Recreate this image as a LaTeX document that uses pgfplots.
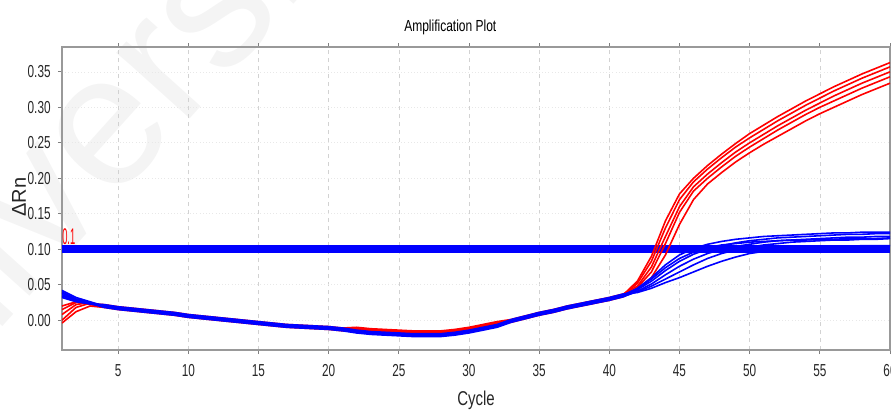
\documentclass[border=0pt]{standalone}
\usepackage{pgfplots}
\pgfplotsset{compat=1.18}
\usepackage{pgfplotstable}
\usepackage{graphicx}
\usepackage{fontspec}
\setmainfont{Liberation Sans}[FakeStretch=0.75]
\newfontfamily\wmfont{Liberation Sans}
\newfontfamily\tickfont{Liberation Sans}[FakeStretch=0.68]

\pgfplotstableread{
c r1 r2 r3 r4 r5 b1 b2 b3 b4 b5 b6
1 0.000 0.008 0.015 0.020 -0.004 0.042 0.040 0.038 0.036 0.034 0.032
2 0.018 0.022 0.025 0.026 0.012 0.032 0.030 0.029 0.028 0.027 0.026
3 0.024 0.025 0.023 0.022 0.020 0.026 0.025 0.024 0.024 0.023 0.023
4 0.021 0.020 0.022 0.019 0.018 0.020 0.019 0.018 0.021 0.019 0.022
5 0.018 0.017 0.019 0.016 0.015 0.017 0.016 0.015 0.018 0.016 0.019
6 0.016 0.015 0.017 0.014 0.013 0.015 0.014 0.013 0.016 0.014 0.017
7 0.014 0.013 0.015 0.012 0.011 0.013 0.012 0.011 0.014 0.012 0.015
8 0.012 0.011 0.013 0.010 0.009 0.011 0.010 0.009 0.012 0.010 0.013
9 0.010 0.009 0.011 0.008 0.007 0.009 0.008 0.007 0.010 0.008 0.011
10 0.007 0.006 0.008 0.005 0.004 0.006 0.005 0.004 0.007 0.005 0.008
11 0.005 0.004 0.006 0.003 0.002 0.004 0.003 0.002 0.005 0.003 0.006
12 0.003 0.002 0.004 0.001 0.000 0.002 0.001 0.000 0.003 0.001 0.004
13 0.001 0.000 0.002 -0.001 -0.002 0.000 -0.001 -0.002 0.001 -0.001 0.002
14 -0.001 -0.002 0.000 -0.003 -0.004 -0.002 -0.003 -0.004 -0.001 -0.003 0.000
15 -0.003 -0.004 -0.002 -0.005 -0.006 -0.004 -0.005 -0.006 -0.003 -0.005 -0.002
16 -0.005 -0.006 -0.004 -0.007 -0.008 -0.006 -0.007 -0.008 -0.005 -0.007 -0.004
17 -0.007 -0.008 -0.006 -0.009 -0.010 -0.008 -0.009 -0.010 -0.007 -0.009 -0.006
18 -0.008 -0.009 -0.007 -0.010 -0.011 -0.009 -0.010 -0.011 -0.008 -0.010 -0.007
19 -0.009 -0.010 -0.008 -0.011 -0.012 -0.010 -0.011 -0.012 -0.009 -0.011 -0.008
20 -0.010 -0.011 -0.009 -0.012 -0.013 -0.011 -0.012 -0.013 -0.010 -0.012 -0.009
21 -0.012 -0.013 -0.011 -0.014 -0.015 -0.013 -0.014 -0.015 -0.012 -0.014 -0.011
22 -0.011 -0.012 -0.010 -0.013 -0.014 -0.016 -0.017 -0.018 -0.015 -0.017 -0.014
23 -0.013 -0.014 -0.012 -0.015 -0.016 -0.018 -0.019 -0.020 -0.017 -0.019 -0.016
24 -0.014 -0.015 -0.013 -0.016 -0.017 -0.019 -0.020 -0.021 -0.018 -0.020 -0.017
25 -0.015 -0.016 -0.014 -0.017 -0.018 -0.020 -0.021 -0.022 -0.019 -0.021 -0.018
26 -0.016 -0.017 -0.015 -0.018 -0.019 -0.021 -0.022 -0.023 -0.020 -0.022 -0.019
27 -0.016 -0.017 -0.015 -0.018 -0.019 -0.021 -0.022 -0.023 -0.020 -0.022 -0.019
28 -0.016 -0.017 -0.015 -0.018 -0.019 -0.021 -0.022 -0.023 -0.020 -0.022 -0.019
29 -0.014 -0.015 -0.013 -0.016 -0.017 -0.019 -0.020 -0.021 -0.018 -0.020 -0.017
30 -0.011 -0.012 -0.010 -0.013 -0.014 -0.016 -0.017 -0.018 -0.015 -0.017 -0.014
31 -0.007 -0.008 -0.006 -0.009 -0.010 -0.012 -0.013 -0.014 -0.011 -0.013 -0.010
32 -0.003 -0.004 -0.002 -0.005 -0.006 -0.008 -0.009 -0.010 -0.007 -0.009 -0.006
33 0.000 -0.001 0.001 -0.002 -0.003 -0.001 -0.002 -0.003 0.000 -0.002 0.001
34 0.005 0.004 0.006 0.003 0.002 0.004 0.003 0.002 0.005 0.003 0.006
35 0.010 0.009 0.011 0.008 0.007 0.009 0.008 0.007 0.010 0.008 0.011
36 0.014 0.013 0.015 0.012 0.011 0.013 0.012 0.011 0.014 0.012 0.015
37 0.019 0.018 0.020 0.017 0.016 0.018 0.017 0.016 0.019 0.017 0.020
38 0.023 0.022 0.024 0.021 0.020 0.022 0.021 0.020 0.023 0.021 0.024
39 0.027 0.026 0.028 0.025 0.024 0.026 0.025 0.024 0.027 0.025 0.028
40 0.031 0.030 0.032 0.029 0.028 0.030 0.029 0.028 0.031 0.029 0.032
41 0.036 0.035 0.037 0.034 0.033 0.035 0.034 0.033 0.036 0.034 0.037
42 0.055 0.052 0.048 0.046 0.043 0.045 0.043 0.041 0.044 0.040 0.039
43 0.090 0.083 0.075 0.068 0.060 0.060 0.055 0.051 0.058 0.048 0.045
44 0.140 0.130 0.118 0.108 0.092 0.078 0.070 0.064 0.074 0.058 0.053
45 0.178 0.170 0.160 0.152 0.135 0.092 0.083 0.076 0.087 0.068 0.060
46 0.200 0.195 0.188 0.182 0.170 0.101 0.093 0.086 0.096 0.078 0.068
47 0.218 0.213 0.206 0.200 0.192 0.107 0.100 0.094 0.102 0.087 0.076
48 0.234 0.229 0.222 0.216 0.208 0.111 0.105 0.100 0.106 0.094 0.083
49 0.249 0.244 0.237 0.231 0.223 0.114 0.109 0.104 0.108 0.099 0.089
50 0.263 0.257 0.250 0.244 0.236 0.116 0.112 0.107 0.110 0.103 0.094
51 0.275 0.269 0.262 0.256 0.248 0.118 0.114 0.110 0.111 0.106 0.097
52 0.287 0.281 0.274 0.268 0.259 0.119 0.116 0.112 0.112 0.108 0.099
53 0.298 0.292 0.285 0.279 0.270 0.120 0.117 0.113 0.113 0.110 0.101
54 0.309 0.303 0.296 0.290 0.281 0.121 0.118 0.114 0.113 0.111 0.102
55 0.319 0.313 0.306 0.300 0.291 0.122 0.119 0.115 0.114 0.112 0.103
56 0.329 0.323 0.316 0.309 0.300 0.123 0.120 0.116 0.114 0.113 0.104
57 0.338 0.332 0.325 0.318 0.309 0.123 0.121 0.117 0.115 0.113 0.104
58 0.347 0.341 0.334 0.327 0.318 0.124 0.121 0.117 0.115 0.114 0.105
59 0.355 0.349 0.342 0.335 0.326 0.124 0.122 0.118 0.115 0.114 0.105
60 0.363 0.357 0.350 0.343 0.334 0.124 0.122 0.118 0.116 0.115 0.105
}\amp

\begin{document}
\begin{tikzpicture}
\useasboundingbox (-46.5pt,-48.75pt) rectangle (621.75pt,262.5pt);
\node[rotate=48, anchor=base west, text=gray!9, font=\wmfont\fontsize{140}{140}\selectfont, inner sep=0pt] at (-150pt,-100pt) {Universi};
\begin{axis}[
  at={(0pt,0pt)}, anchor=south west,
  scale only axis, width=621pt, height=227.25pt,
  xmin=1, xmax=60, ymin=-0.042, ymax=0.385,
  xtick={5,10,...,60},
  ytick={0,0.05,0.10,0.15,0.20,0.25,0.30,0.35},
  /pgf/number format/assume math mode=true,
  yticklabel style={/pgf/number format/fixed, /pgf/number format/fixed zerofill, /pgf/number format/precision=2, xshift=-2pt},
  tick label style={font=\tickfont\fontsize{13}{14}\selectfont, text=black!85},
  xticklabel style={yshift=-4.5pt},
  tick align=outside, major tick length=3pt,
  tick style={gray, line width=0.6pt},
  axis line style={gray!80, line width=0.8pt},
  xmajorgrids, ymajorgrids,
  x grid style={gray!35, dashed, line width=0.4pt},
  y grid style={gray!18, dotted, line width=0.5pt},
  title={Amplification Plot},
  title style={at={(0.469,1)}, anchor=center, yshift=9pt, font=\fontsize{12}{13}\selectfont},
  xlabel={Cycle},
  xlabel style={at={(0.5,0)}, anchor=center, yshift=-38pt, font=\fontsize{15}{16}\selectfont, text=black!85},
  clip=true,
]
\addplot[blue, line width=6pt, forget plot] coordinates {(1,0.1) (60,0.1)};
\foreach \s in {r1,r2,r3,r4,r5} {
  \addplot[red, line width=1.2pt, forget plot] table[x=c, y=\s] {\amp};
}
\foreach \s in {b1,b2,b3,b4,b5,b6} {
  \addplot[blue, line width=1.2pt, forget plot] table[x=c, y=\s] {\amp};
}
\node[anchor=south west, inner sep=0pt, text=red, yshift=3.2pt] at (axis cs:1,0.1) {\scalebox{0.55}[1]{\fontsize{17}{17}\selectfont 0.1}};
\end{axis}
\node[anchor=center, inner sep=0pt, text=black!85, font=\wmfont\fontsize{15}{16}\selectfont] at (-32.25pt,114.75pt) {\rotatebox{90}{ΔRn}};
\end{tikzpicture}
\end{document}
